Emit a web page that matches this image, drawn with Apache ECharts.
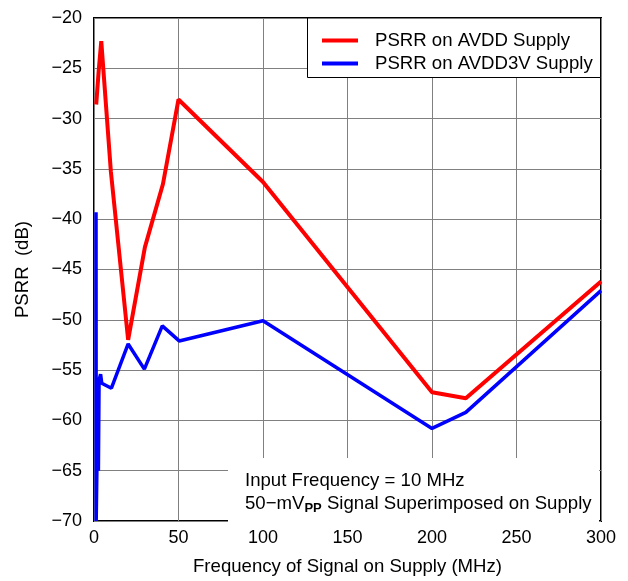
<!DOCTYPE html>
<html>
<head>
<meta charset="utf-8">
<script src="https://cdn.jsdelivr.net/npm/echarts@6/dist/echarts.min.js"></script>
<style>
html,body{margin:0;padding:0;background:#fff;}
#c{width:628px;height:581px;}
</style>
</head>
<body>
<div id="c"></div>
<script>
// Data (frequency in MHz, PSRR in dB)
var avddFreq = [1.3, 2.8, 4.3, 10, 20.2, 30.1, 40.8, 50, 100, 200, 220, 300];
var avddPsrr = [-28.6, -25.2, -22.3, -35.3, -52.0, -42.8, -36.5, -28.1, -36.3, -57.2, -57.8, -46.2];

var avdd3vFreq = [1.2, 1.3, 1.7, 2.1, 2.6, 3.0, 3.9, 4.6, 10.3, 20.2, 29.8, 40.4, 50.4, 100, 200, 220, 300];
var avdd3vPsrr = [-39.3, -70.0, -65.0, -55.8, -65.0, -56.0, -55.4, -56.3, -56.8, -52.4, -54.9, -50.6, -52.1, -50.1, -60.8, -59.2, -47.1];

var xTicks = [0, 50, 100, 150, 200, 250, 300];
var yTicks = [-70, -65, -60, -55, -50, -45, -40, -35, -30, -25, -20];

var seriesNames = ['PSRR on AVDD Supply', 'PSRR on AVDD3V Supply'];

function pairs(xs, ys) {
  return xs.map(function (x, i) { return [x, ys[i]]; });
}
function fmt(v) { return String(v).replace('-', '\u2212'); }

var FONT = 'Liberation Sans, Arial, sans-serif';
var FS = 18;
var FS2 = 18.6;
var chart = echarts.init(document.getElementById('c'), null, {renderer: 'canvas'});
chart.setOption({
  animation: false,
  backgroundColor: '#fff',
  textStyle: {fontFamily: FONT},
  grid: {left: 94, right: 27, top: 18, bottom: 58, show: true, borderColor: '#000', borderWidth: 2, backgroundColor: 'transparent', containLabel: false},
  xAxis: {
    type: 'value', min: xTicks[0], max: xTicks[xTicks.length - 1], interval: 50,
    axisLine: {show: false}, axisTick: {show: false},
    splitLine: {show: true, lineStyle: {color: '#808080', width: 1}},
    axisLabel: {color: '#000', fontSize: FS, fontFamily: FONT, margin: 8, formatter: fmt},
    name: 'Frequency of Signal on Supply (MHz)', nameLocation: 'middle', nameGap: 36,
    nameTextStyle: {color: '#000', fontSize: FS2, fontFamily: FONT}
  },
  yAxis: {
    type: 'value', min: yTicks[0], max: yTicks[yTicks.length - 1], interval: 5,
    axisLine: {show: false}, axisTick: {show: false},
    splitLine: {show: true, lineStyle: {color: '#808080', width: 1}},
    axisLabel: {color: '#000', fontSize: FS, fontFamily: FONT, margin: 12, formatter: fmt},
    name: 'PSRR  (dB)', nameLocation: 'middle', nameGap: 62, nameRotate: 90,
    nameTextStyle: {color: '#000', fontSize: FS2, fontFamily: FONT}
  },
  legend: {
    orient: 'vertical', left: 322, top: 31, z: 10,
    padding: 0, itemGap: 4,
    itemWidth: 36, itemHeight: 4, icon: 'rect',
    textStyle: {color: '#000', fontSize: FS2, fontFamily: FONT, padding: [0, 0, 0, 12]},
    data: seriesNames
  },
  graphic: [
    {type: 'rect', z: 3, shape: {x: 307.5, y: 18, width: 293, height: 59.5}, style: {fill: '#fff', stroke: '#000', lineWidth: 1}},
    {type: 'rect', z: 50, shape: {x: 228, y: 458, width: 371, height: 64}, style: {fill: '#fff'}},
    {type: 'text', z: 51, left: 245, top: 469,
     style: {
       text: 'Input Frequency = 10 MHz\n{a|50\u2212mV}{b|PP}{a| Signal Superimposed on Supply}',
       font: FS2 + 'px ' + FONT, fill: '#000', lineHeight: 23,
       rich: {
         a: {fontSize: FS2, fontFamily: FONT, fill: '#000', lineHeight: 23},
         b: {fontSize: 13, fontWeight: 'bold', fontFamily: FONT, fill: '#000', lineHeight: 17, verticalAlign: 'bottom'}
       }
     }}
  ],
  series: [
    {name: seriesNames[0], type: 'line', data: pairs(avddFreq, avddPsrr), showSymbol: false, symbol: 'none',
     lineStyle: {color: '#ff0000', width: 4}, itemStyle: {color: '#ff0000'}, z: 3},
    {name: seriesNames[1], type: 'line', data: pairs(avdd3vFreq, avdd3vPsrr), showSymbol: false, symbol: 'none',
     lineStyle: {color: '#0000ff', width: 3.5}, itemStyle: {color: '#0000ff'}, z: 3}
  ]
});
</script>
</body>
</html>
